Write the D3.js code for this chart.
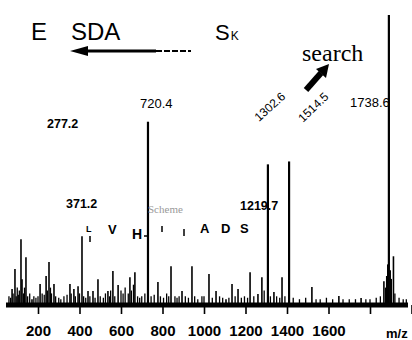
<!DOCTYPE html>
<html><head><meta charset="utf-8">
<script src="https://cdn.jsdelivr.net/npm/d3@7"></script>
<style>html,body{margin:0;padding:0;background:#fff;}svg{display:block;}</style>
</head><body>
<svg id="c" width="412" height="340"></svg>
<script>
// ---- data ----
const peakMz = [75, 89, 118, 123, 142, 171, 210, 239, 253, 277, 354, 373, 393, 412, 441, 465, 489, 537, 561, 586, 643, 667, 730, 778, 841, 894, 942, 1024, 1058, 1106, 1135, 1164, 1222, 1260, 1279, 1308, 1337, 1376, 1410, 1520, 1650, 1757, 1867, 1891, 1913];
const peakInt = [5.5, 12.4, 22.7, 8.9, 16.5, 2, 7.2, 10, 14.8, 7.2, 7.2, 5.5, 6.5, 23.7, 4.8, 4.8, 8.9, 4.8, 11.7, 6.9, 9.6, 11.3, 63.2, 7.9, 13.4, 4.8, 13.4, 10.7, 4.8, 2, 7.2, 5.5, 11.3, 3.8, 9.6, 48.5, 4.5, 9.6, 49.5, 6.2, 3.1, 2.4, 8.2, 100, 16.8];
const noiseMz = [60, 68, 80, 95, 100, 105, 110, 130, 135, 150, 160, 180, 190, 200, 220, 230, 245, 260, 265, 285, 300, 310, 325, 340, 360, 380, 400, 420, 430, 450, 475, 500, 515, 525, 545, 550, 570, 600, 610, 620, 635, 650, 660, 680, 690, 700, 715, 745, 760, 790, 805, 820, 830, 860, 870, 880, 910, 925, 955, 970, 990, 1000, 1040, 1075, 1090, 1120, 1150, 1180, 1195, 1210, 1240, 1290, 1320, 1350, 1365, 1390, 1430, 1460, 1490, 1540, 1560, 1590, 1620, 1670, 1700, 1730, 1780, 1800, 1830, 1850, 1875, 1880, 1885, 1898, 1903, 1920, 1940, 1960, 1975];
const noiseInt = [3, 2.5, 4, 3, 6, 3.5, 5, 4, 6, 3, 4, 3, 2.5, 3, 4, 3.5, 5, 6, 4, 3, 2.5, 2, 3, 3.5, 4, 3, 4, 3, 2.5, 3, 2.5, 3, 2.5, 4, 3, 5, 3, 5, 4, 6, 4, 5, 7, 3, 2.5, 3, 4, 3, 3.5, 3, 2.5, 4, 3, 3, 2.5, 3, 3, 2.5, 3, 2, 3, 3, 2.5, 3, 2.5, 2.5, 3, 2.5, 3, 2.5, 3, 5, 3, 3, 2.5, 3, 2.5, 2, 2.5, 2, 2, 2.5, 2, 2, 2, 2, 2, 2, 2.5, 3, 6, 10, 14, 12, 9, 4, 2.5, 2, 2];
const tickValues = [200, 400, 600, 800, 1000, 1200, 1400, 1600, 1800, 2000];
const tickLabels = ["200", "400", "600", "800", "1000", "1200", "1400", "1600", "", ""];
const peakLabels = ["277.2", "371.2", "720.4", "1219.7", "1302.6", "1514.5", "1738.6"];
const seqLetters = ["L", "V", "H", "A", "D", "S"];
const titleParts = ["E", "SDA", "S"];

// ---- drawing ----
const svg = d3.select("#c");
const font = "'Liberation Sans', Arial, Helvetica, sans-serif";
const serif = "'Liberation Serif', 'Times New Roman', serif";
const x = d3.scaleLinear().domain([200, 2000]).range([38, 411.5]);
const y = d3.scaleLinear().domain([0, 100]).range([305, 15]);

const noise = noiseMz.map((m, i) => ({mz: m, v: noiseInt[i]}));
const peaks = peakMz.map((m, i) => ({mz: m, v: peakInt[i]}));

// baseline band
svg.append("line").attr("x1", 6).attr("x2", 408).attr("y1", y(0)).attr("y2", y(0))
  .attr("stroke", "#000").attr("stroke-width", 5);

svg.append("g").selectAll("line").data(noise).join("line")
  .attr("x1", d => x(d.mz)).attr("x2", d => x(d.mz))
  .attr("y1", y(0)).attr("y2", d => y(d.v))
  .attr("stroke", "#000").attr("stroke-width", 1.3);

svg.append("g").selectAll("line").data(peaks).join("line")
  .attr("x1", d => x(d.mz)).attr("x2", d => x(d.mz))
  .attr("y1", y(0)).attr("y2", d => y(d.v))
  .attr("stroke", "#000").attr("stroke-width", d => d.v > 40 ? 2.2 : 1.6);

// axis
const axis = d3.axisBottom(x).tickValues(tickValues).tickSize(9).tickPadding(11)
  .tickFormat((d, i) => tickLabels[i]);
const ag = svg.append("g").attr("transform", `translate(0,${y(0)})`).call(axis);
ag.select(".domain").remove();
ag.selectAll(".tick line").attr("stroke", "#000").attr("stroke-width", 1.6);
ag.selectAll(".tick text").attr("fill", "#000").attr("font-family", font)
  .attr("font-size", 15).attr("font-weight", "bold");
svg.append("text").attr("x", 386).attr("y", 338).text("m/z")
  .attr("font-family", font).attr("font-size", 13).attr("font-weight", "bold");

// title text
svg.append("text").attr("x", 31).attr("y", 40).text(titleParts[0])
  .attr("font-family", font).attr("font-size", 24);
svg.append("text").attr("x", 71).attr("y", 40).text(titleParts[1])
  .attr("font-family", font).attr("font-size", 24);
const sk = svg.append("text").attr("x", 215).attr("y", 40)
  .attr("font-family", font).attr("font-size", 22);
sk.append("tspan").text(titleParts[2]);
sk.append("tspan").attr("font-size", 12).attr("dx", 1).text("K");

// left arrow
svg.append("line").attr("x1", 84).attr("x2", 156).attr("y1", 51).attr("y2", 51)
  .attr("stroke", "#000").attr("stroke-width", 3);
svg.append("line").attr("x1", 156).attr("x2", 191).attr("y1", 51).attr("y2", 51)
  .attr("stroke", "#000").attr("stroke-width", 2).attr("stroke-dasharray", "6,2");
svg.append("polygon").attr("points", "70,51 88,46 88,56").attr("fill", "#000");

// "search" + arrow
svg.append("text").attr("x", 302).attr("y", 61).text("search")
  .attr("font-family", serif).attr("font-size", 24);
svg.append("line").attr("x1", 306).attr("y1", 90).attr("x2", 321).attr("y2", 73)
  .attr("stroke", "#000").attr("stroke-width", 6);
svg.append("polygon").attr("points", "329,64 326,78 316,69").attr("fill", "#000");

// peak labels
const lab = (t, px, py, opts = {}) => svg.append("text").attr("x", px).attr("y", py).text(t)
  .attr("font-family", font).attr("font-size", opts.size || 13)
  .attr("font-weight", opts.bold ? "bold" : "normal")
  .attr("transform", opts.rot ? `rotate(${opts.rot},${px},${py})` : null);
lab(peakLabels[0], 47, 128, {bold: true, size: 12.5});
lab(peakLabels[1], 66, 208, {bold: true, size: 12.5});
lab(peakLabels[2], x(730) - 8, 108);
lab(peakLabels[3], 240, 210, {bold: true, size: 12.5});
lab(peakLabels[4], 259, 122, {rot: -42, size: 12});
lab(peakLabels[5], 303, 123, {rot: -44, size: 12});
lab(peakLabels[6], 350, 107);

// sequence letters
const seqPos = [[86, 232, 9], [108, 234, 13], [132, 239, 14], [200, 233, 13], [221, 233, 13], [240, 233, 13]];
seqLetters.forEach((s, i) => {
  svg.append("text").attr("x", seqPos[i][0]).attr("y", seqPos[i][1]).text(s)
    .attr("font-family", font).attr("font-size", seqPos[i][2]).attr("font-weight", "bold");
});
svg.append("path").attr("d", "M144,236 H148 M162,226 V232 M184,229 V236 M90,236 V242")
  .attr("stroke", "#000").attr("stroke-width", 1.5).attr("fill", "none");
svg.append("text").attr("x", 148).attr("y", 213).text("Scheme")
  .attr("font-family", serif).attr("font-size", 11).attr("fill", "#999");
</script>
</body></html>
